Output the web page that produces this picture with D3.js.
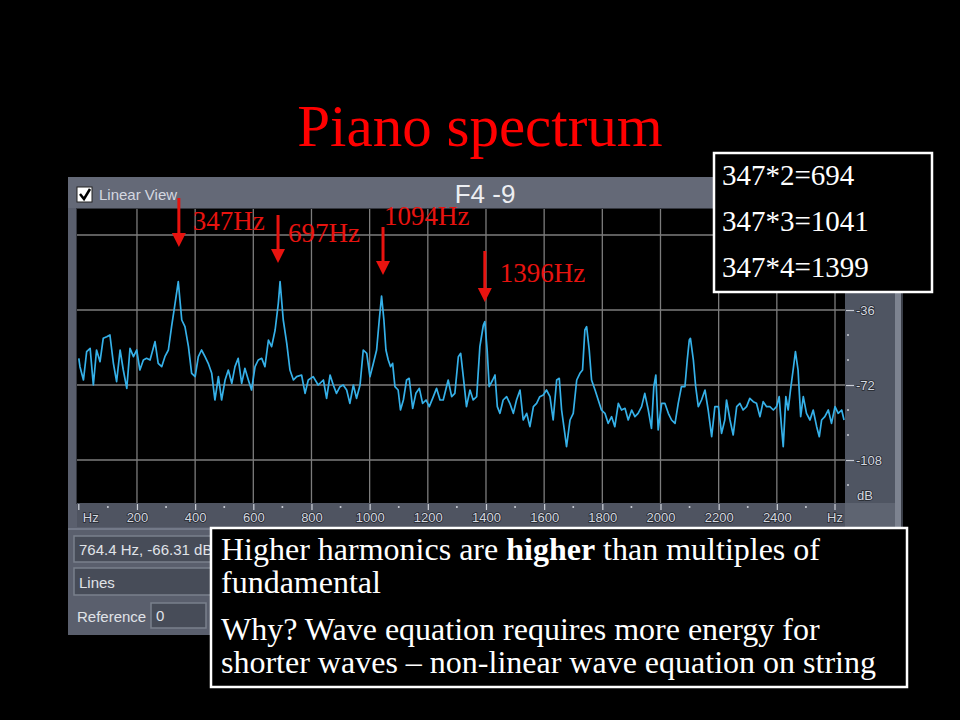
<!DOCTYPE html>
<html><head><meta charset="utf-8">
<script src="https://cdn.jsdelivr.net/npm/d3@7"></script>
<style>body{margin:0;background:#000;}svg{display:block}</style>
</head><body>
<svg id="c" width="960" height="720"></svg>
<script>
// ---------- data ----------
const freqHz = [0,4,16,27,39,50,61,73,84,96,107,119,130,142,153,165,176,188,199,210,222,233,245,262,273,285,296,308,319,331,342,354,365,377,388,400,411,422,434,445,457,468,480,491,503,514,526,537,548,560,571,583,594,606,617,629,640,652,663,675,686,692,703,715,726,738,749,766,778,789,806,823,841,852,864,875,886,898,909,921,932,944,955,967,978,990,1001,1012,1024,1033,1041,1049,1056,1064,1072,1079,1087,1098,1106,1116,1127,1136,1148,1159,1171,1182,1194,1205,1219,1230,1242,1253,1270,1282,1293,1305,1313,1322,1333,1345,1356,1368,1379,1391,1396,1404,1411,1423,1431,1439,1448,1459,1471,1482,1494,1505,1517,1528,1540,1551,1563,1574,1585,1597,1608,1620,1631,1643,1652,1660,1671,1677,1689,1700,1712,1723,1732,1740,1746,1755,1763,1775,1786,1797,1809,1820,1832,1843,1855,1866,1878,1889,1901,1912,1923,1935,1946,1958,1969,1977,1984,1992,2004,2015,2027,2038,2050,2061,2072,2084,2092,2099,2103,2113,2121,2130,2141,2153,2164,2176,2187,2199,2210,2221,2227,2239,2250,2262,2273,2284,2296,2307,2319,2330,2342,2353,2365,2376,2388,2399,2408,2416,2422,2431,2439,2447,2456,2464,2473,2482,2491,2502,2514,2525,2537,2546,2554,2565,2577,2588,2600,2611,2623,2631];
const levelDb = [-59.2,-63.2,-69.6,-56.0,-54.4,-72.0,-55.2,-60.8,-49.6,-48.8,-48.0,-61.6,-70.4,-55.2,-64.8,-73.6,-54.4,-58.4,-55.2,-64.8,-60.0,-59.2,-60.0,-51.2,-61.6,-63.2,-58.4,-55.2,-44.0,-32.8,-22.4,-40.8,-44.0,-53.6,-66.4,-68.0,-58.4,-55.2,-58.4,-61.6,-66.4,-79.2,-68.0,-79.2,-69.6,-64.8,-71.2,-63.2,-59.2,-71.2,-64.0,-69.6,-74.4,-63.2,-60.0,-59.2,-63.2,-50.4,-53.6,-45.6,-32.8,-22.4,-40.8,-52.0,-64.8,-69.6,-68.0,-67.2,-76.0,-69.6,-68.0,-72.0,-69.6,-78.4,-67.2,-72.0,-76.0,-72.8,-72.0,-74.4,-80.8,-72.0,-78.4,-72.0,-55.2,-56.8,-68.0,-62.0,-55.2,-40.8,-29.3,-40.8,-55.2,-60.0,-63.2,-61.6,-72.8,-74.4,-84.0,-79.2,-69.6,-68.8,-83.2,-76.0,-73.6,-80.8,-79.2,-82.4,-77.6,-73.6,-79.2,-79.2,-69.6,-77.6,-76.0,-58.4,-56.8,-68.0,-82.4,-74.4,-79.2,-77.6,-53.6,-43.2,-41.6,-55.2,-72.8,-69.6,-67.2,-82.4,-85.6,-79.2,-77.6,-80.8,-85.6,-79.2,-74.4,-88.8,-85.6,-92.0,-82.4,-80.8,-77.6,-76.8,-74.4,-77.6,-88.8,-69.6,-68.8,-84.0,-95.2,-101.6,-88.8,-85.6,-69.6,-66.4,-64.8,-45.6,-44.0,-55.2,-69.6,-74.4,-79.2,-84.0,-85.6,-90.4,-87.2,-92.0,-80.8,-84.0,-83.2,-88.8,-84.0,-87.2,-85.6,-82.4,-76.0,-84.0,-92.8,-72.8,-67.2,-93.6,-80.8,-80.8,-85.6,-88.8,-90.4,-80.8,-72.8,-72.8,-60.0,-50.4,-49.6,-60.0,-72.8,-82.4,-79.2,-74.4,-84.0,-96.8,-82.4,-82.4,-95.2,-88.8,-79.2,-88.8,-96.0,-82.4,-80.8,-84.0,-82.4,-78.4,-80.0,-80.8,-87.2,-80.0,-82.4,-82.4,-84.0,-82.4,-77.6,-92.0,-101.6,-77.6,-84.0,-74.4,-64.8,-56.0,-64.8,-87.2,-77.6,-85.6,-88.8,-84.0,-92.0,-96.8,-88.8,-87.2,-84.0,-90.4,-82.4,-85.6,-84.0,-88.8];
const xTickValues = [200,400,600,800,1000,1200,1400,1600,1800,2000,2200,2400];
const xGridValues = [200,400,600,800,1000,1200,1400,1600,1800,2000,2200,2400,2600];
const xMinorValues = [100,300,500,700,900,1100,1300,1500,1700,1900,2100,2300,2500];
const yTickValues = [-36,-72,-108];
const yGridValues = [0,-36,-72,-108];
const yMinorValues = [-48,-60,-84,-96,-120];
const arrowHz = [344,685,1046,1396];
const arrowLabels = ["347Hz","697Hz","1094Hz","1396Hz"];
const harmonicLines = ["347*2=694","347*3=1041","347*4=1399"];
const titleText = "Piano spectrum";
const windowTitle = "F4 -9";
const readoutText = "764.4 Hz, -66.31 dB";

// ---------- layout ----------
const serif = "'Liberation Serif','Times New Roman',serif";
const sans = "'Liberation Sans',Arial,sans-serif";
const plot = {x0:77, x1:845, y0:209, y1:503};
const arrowLayout = [
  {top:198, tip:247, lx:14, ly:230},
  {top:215, tip:263, lx:10, ly:242},
  {top:227, tip:275, lx:1,  ly:225},
  {top:251, tip:302, lx:15, ly:282}
];

const svg = d3.select("#c");
svg.append("rect").attr("width",960).attr("height",720).attr("fill","#000");

const x = d3.scaleLinear().domain([0,2600]).range([78.8,835]);
const y = d3.scaleLinear().domain([0,-108]).range([235,460]);

// title
svg.append("text").attr("x",480).attr("y",146).attr("text-anchor","middle")
  .attr("font-family",serif).attr("font-size",59).attr("fill","#ff0000").text(titleText);

// window panel
const g = svg.append("g");
g.append("rect").attr("x",68).attr("y",177).attr("width",835).attr("height",458).attr("fill","#5a5f6d");
g.append("rect").attr("x",68).attr("y",177).attr("width",835).attr("height",31).attr("fill","#646977");
// checkbox + label
g.append("rect").attr("x",77).attr("y",187).attr("width",15).attr("height",15).attr("fill","#fff").attr("stroke","#222").attr("stroke-width",1);
g.append("path").attr("d","M80,194 L84,199 L90,189").attr("fill","none").attr("stroke","#000").attr("stroke-width",2.5);
g.append("text").attr("x",99).attr("y",200).attr("font-family",sans).attr("font-size",15).attr("fill","#d4d8e0").text("Linear View");
g.append("text").attr("x",485).attr("y",203).attr("text-anchor","middle").attr("font-family",sans).attr("font-size",26).attr("fill","#eceef2").text(windowTitle);

// plot area
g.append("rect").attr("x",plot.x0-1).attr("y",plot.y0-1).attr("width",plot.x1-plot.x0+2).attr("height",plot.y1-plot.y0+2).attr("fill","#34373f");
g.append("rect").attr("x",plot.x0).attr("y",plot.y0).attr("width",plot.x1-plot.x0).attr("height",plot.y1-plot.y0).attr("fill","#000");

// grid
g.append("g").selectAll("line").data(xGridValues).join("line")
  .attr("x1",d=>x(d)).attr("x2",d=>x(d)).attr("y1",plot.y0).attr("y2",plot.y1)
  .attr("stroke","#7c7c7c").attr("stroke-width",1.3);
g.append("g").selectAll("line").data(yGridValues).join("line")
  .attr("x1",plot.x0).attr("x2",plot.x1).attr("y1",d=>y(d)).attr("y2",d=>y(d))
  .attr("stroke","#7c7c7c").attr("stroke-width",1.3);

// spectrum
svg.append("clipPath").attr("id","clip").append("rect")
  .attr("x",plot.x0).attr("y",plot.y0).attr("width",plot.x1-plot.x0).attr("height",plot.y1-plot.y0);
const pts = freqHz.map((f,i)=>[f,levelDb[i]]);
g.append("path").datum(pts).attr("clip-path","url(#clip)")
  .attr("d",d3.line().x(d=>x(d[0])).y(d=>y(d[1])))
  .attr("fill","none").attr("stroke","#35b0e8").attr("stroke-width",1.7).attr("stroke-linejoin","round");

// right axis panel
g.append("rect").attr("x",plot.x1).attr("y",plot.y0).attr("width",50).attr("height",plot.y1-plot.y0).attr("fill","#4f5562");
g.append("rect").attr("x",895).attr("y",177).attr("width",6).attr("height",458).attr("fill","#7d8390");
g.append("rect").attr("x",901).attr("y",177).attr("width",2).attr("height",458).attr("fill","#3a3e48");

const yAxis = d3.axisRight(y).tickValues(yTickValues).tickSize(8).tickPadding(2).tickFormat(d=>String(d));
const ya = g.append("g").attr("transform",`translate(${plot.x1+1},0)`).call(yAxis);
ya.select(".domain").remove();
ya.selectAll("line").attr("stroke","#c8ccd4").attr("stroke-width",1.2);
ya.selectAll("text").attr("font-family",sans).attr("font-size",13).attr("fill","#d4d8e0")
  .style("paint-order","stroke").attr("stroke","#25282e").attr("stroke-width",1.5);
g.append("g").selectAll("circle").data(yMinorValues).join("circle")
  .attr("cx",plot.x1+3).attr("cy",d=>y(d)).attr("r",1).attr("fill","#c8ccd4");
g.append("text").attr("x",857).attr("y",500).attr("font-family",sans).attr("font-size",13).attr("fill","#d4d8e0")
  .style("paint-order","stroke").attr("stroke","#25282e").attr("stroke-width",1.5).text("dB");

// x-axis strip
g.append("rect").attr("x",plot.x0).attr("y",plot.y1).attr("width",plot.x1-plot.x0).attr("height",24).attr("fill","#4f5461");
g.append("rect").attr("x",plot.x1).attr("y",plot.y1).attr("width",50).attr("height",24).attr("fill","#5e6471");
g.append("rect").attr("x",68).attr("y",528).attr("width",827).attr("height",2).attr("fill","#737988");
const xAxis = d3.axisBottom(x).tickValues(xTickValues).tickSize(6).tickPadding(3).tickFormat(d=>String(d));
const xa = g.append("g").attr("transform",`translate(0,${plot.y1+1})`).call(xAxis);
xa.select(".domain").remove();
xa.selectAll("line").attr("stroke","#d0d4dc").attr("stroke-width",1.2);
xa.selectAll("text").attr("font-family",sans).attr("font-size",13).attr("fill","#d4d8e0")
  .style("paint-order","stroke").attr("stroke","#25282e").attr("stroke-width",1.5);
g.append("g").selectAll("circle").data(xMinorValues).join("circle")
  .attr("cx",d=>x(d)).attr("cy",plot.y1+4).attr("r",1).attr("fill","#d0d4dc");
g.append("line").attr("x1",x(0)).attr("x2",x(0)).attr("y1",plot.y1+1).attr("y2",plot.y1+7).attr("stroke","#d0d4dc").attr("stroke-width",1.2);
g.append("line").attr("x1",x(2600)).attr("x2",x(2600)).attr("y1",plot.y1+1).attr("y2",plot.y1+7).attr("stroke","#d0d4dc").attr("stroke-width",1.2);
[["Hz",x(0)+4,"start"],["Hz",x(2600),"middle"]].forEach(([t,px,a])=>{
  g.append("text").attr("x",px).attr("y",522).attr("text-anchor",a).attr("font-family",sans).attr("font-size",13).attr("fill","#d4d8e0")
    .style("paint-order","stroke").attr("stroke","#25282e").attr("stroke-width",1.5).text(t);
});

// lower controls
function field(x0,y0,w,h,txt){
  g.append("rect").attr("x",x0).attr("y",y0).attr("width",w).attr("height",h).attr("fill","#474c58").attr("stroke","#7a808c").attr("stroke-width",1.5);
  if(txt) g.append("text").attr("x",x0+5).attr("y",y0+h-7).attr("font-family",sans).attr("font-size",15).attr("fill","#e0e3e8").text(txt);
}
field(74,536,300,26,readoutText);
field(74,568,300,27,"Lines");
g.append("text").attr("x",77).attr("y",622).attr("font-family",sans).attr("font-size",15).attr("fill","#e0e3e8").text("Reference");
field(151,603,55,25,"0");

// arrows + labels
const red = "#e8130f";
arrowHz.forEach((f,i)=>{
  const L = arrowLayout[i], ax = x(f);
  svg.append("line").attr("x1",ax).attr("x2",ax).attr("y1",L.top).attr("y2",L.tip-12).attr("stroke",red).attr("stroke-width",3);
  svg.append("path").attr("d",`M${ax-7},${L.tip-14} L${ax+7},${L.tip-14} L${ax},${L.tip} Z`).attr("fill",red);
  svg.append("text").attr("x",ax+L.lx).attr("y",L.ly).attr("font-family",serif).attr("font-size",27).attr("fill",red).text(arrowLabels[i]);
});

// harmonic box
svg.append("rect").attr("x",714).attr("y",153).attr("width",218).attr("height",139).attr("fill","#000").attr("stroke","#fff").attr("stroke-width",2.5);
svg.append("g").selectAll("text").data(harmonicLines).join("text")
  .attr("x",722).attr("y",(d,i)=>185+i*46).attr("font-family",serif).attr("font-size",29).attr("fill","#fff").text(d=>d);

// note box
svg.append("rect").attr("x",211).attr("y",528).attr("width",696).attr("height",159).attr("fill","#000").attr("stroke","#fff").attr("stroke-width",2.5);
const nt = svg.append("g").attr("font-family",serif).attr("font-size",32).attr("fill","#fff");
const l1 = nt.append("text").attr("x",221).attr("y",560);
l1.append("tspan").text("Higher harmonics are ");
l1.append("tspan").attr("font-weight","bold").text("higher");
l1.append("tspan").text(" than multiples of");
nt.append("text").attr("x",221).attr("y",593).text("fundamental");
nt.append("text").attr("x",221).attr("y",640).text("Why? Wave equation requires more energy for");
nt.append("text").attr("x",221).attr("y",673).text("shorter waves \u2013 non-linear wave equation on string");
</script>
</body></html>
